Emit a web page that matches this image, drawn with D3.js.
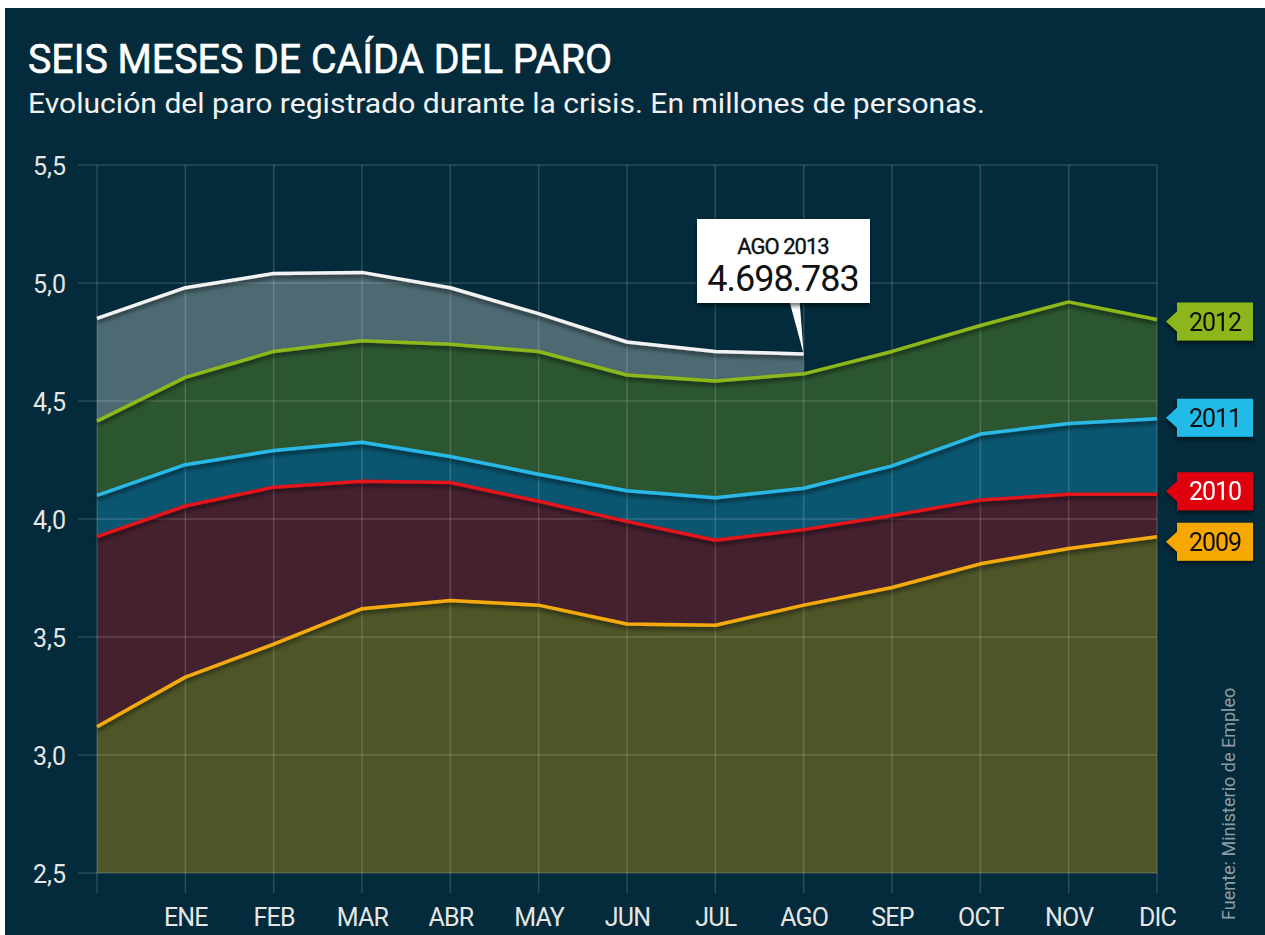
<!DOCTYPE html>
<html>
<head>
<meta charset="utf-8">
<script src="https://cdn.jsdelivr.net/npm/d3@7"></script>
<style>
  body { margin: 0; background: #fff; }
  svg { display: block; }
</style>
</head>
<body>
<svg id="chart" width="1265" height="935"></svg>
<script>
// Data (millones de personas), de DIC del año anterior a DIC
const months = ["", "ENE", "FEB", "MAR", "ABR", "MAY", "JUN", "JUL", "AGO", "SEP", "OCT", "NOV", "DIC"];
const yTicks = [2.5, 3.0, 3.5, 4.0, 4.5, 5.0, 5.5];

const paro2013 = [4.85, 4.98, 5.04, 5.045, 4.98, 4.87, 4.75, 4.71, 4.699];
const paro2012 = [4.415, 4.60, 4.71, 4.755, 4.74, 4.71, 4.61, 4.585, 4.615, 4.71, 4.82, 4.92, 4.845];
const paro2011 = [4.10, 4.23, 4.29, 4.325, 4.265, 4.19, 4.12, 4.09, 4.13, 4.225, 4.36, 4.405, 4.425];
const paro2010 = [3.925, 4.055, 4.135, 4.16, 4.155, 4.075, 3.99, 3.91, 3.955, 4.015, 4.08, 4.105, 4.105];
const paro2009 = [3.12, 3.33, 3.47, 3.62, 3.655, 3.635, 3.555, 3.55, 3.635, 3.71, 3.81, 3.875, 3.925];

const series = [
  { year: "2013", values: paro2013, line: "#f2f2f2", fill: "#4d6a73" },
  { year: "2012", values: paro2012, line: "#8db81c", fill: "#2c5630" },
  { year: "2011", values: paro2011, line: "#29b9e6", fill: "#0a5670" },
  { year: "2010", values: paro2010, line: "#e3121c", fill: "#45212f" },
  { year: "2009", values: paro2009, line: "#f5aa0c", fill: "#4e5527" }
];
const tags = [
  { year: "2012", dy: 2, bg: "#8cb61a", color: "#111" },
  { year: "2011", dy: -1, bg: "#22bbe8", color: "#111" },
  { year: "2010", dy: -3, bg: "#e0000f", color: "#fff" },
  { year: "2009", dy: 5, bg: "#f7a800", color: "#111" }
];

const svg = d3.select("#chart");
const bg = "#032b3b";
const font = "Roboto, 'Liberation Sans', sans-serif";

// Background
svg.append("rect")
  .attr("x", 5).attr("y", 8)
  .attr("width", 1260).attr("height", 927)
  .attr("fill", bg);

// Shadow filter
const defs = svg.append("defs");
const f = defs.append("filter").attr("id", "shadow")
  .attr("x", "-10%").attr("y", "-10%").attr("width", "120%").attr("height", "140%");
f.append("feDropShadow")
  .attr("dx", 0).attr("dy", 3).attr("stdDeviation", 2)
  .attr("flood-color", "#000").attr("flood-opacity", 0.55);

// Scales
const x = d3.scaleLinear().domain([0, 12]).range([97, 1157]);
const y = d3.scaleLinear().domain([2.5, 5.5]).range([873, 165]);

// Title
svg.append("text")
  .attr("x", 28).attr("y", 73)
  .attr("textLength", 584).attr("lengthAdjust", "spacingAndGlyphs")
  .style("font-family", font).style("font-size", "40px")
  .style("fill", "#fff")
  .style("stroke", "#fff").style("stroke-width", 0.6)
  .text("SEIS MESES DE CAÍDA DEL PARO");

svg.append("text")
  .attr("x", 28).attr("y", 113)
  .attr("textLength", 957).attr("lengthAdjust", "spacingAndGlyphs")
  .style("font-family", font).style("font-size", "27px")
  .style("fill", "#f2f2f2")
  .text("Evolución del paro registrado durante la crisis. En millones de personas.");

// Areas
const area = d3.area()
  .x((d, i) => x(i))
  .y0(y(2.5))
  .y1((d) => y(d));

svg.append("g")
  .selectAll("path")
  .data(series)
  .join("path")
  .attr("d", (d) => area(d.values))
  .attr("fill", (d) => d.fill);

// Grid
const grid = svg.append("g").attr("class", "grid");
grid.selectAll(".hline")
  .data(yTicks)
  .join("line")
  .attr("x1", 78).attr("x2", 1157)
  .attr("y1", (d) => y(d)).attr("y2", (d) => y(d))
  .attr("stroke", "#ffffff").attr("stroke-opacity", 0.16).attr("stroke-width", 1.5);
grid.selectAll(".vline")
  .data(d3.range(13))
  .join("line")
  .attr("x1", (d) => x(d)).attr("x2", (d) => x(d))
  .attr("y1", y(5.5)).attr("y2", 893)
  .attr("stroke", "#ffffff").attr("stroke-opacity", 0.16).attr("stroke-width", 1.5);

// Lines
const line = d3.line()
  .x((d, i) => x(i))
  .y((d) => y(d));

svg.append("g")
  .selectAll("path")
  .data(series.slice().reverse())
  .join("path")
  .attr("d", (d) => line(d.values))
  .attr("fill", "none")
  .attr("stroke", (d) => d.line)
  .attr("stroke-width", 3.5)
  .attr("stroke-linejoin", "round")
  .attr("filter", "url(#shadow)");

// Y axis labels
const yAxis = d3.axisLeft(y)
  .tickValues(yTicks)
  .tickSize(0)
  .tickPadding(0)
  .tickFormat((d) => d3.format(".1f")(d).replace(".", ","));
const gy = svg.append("g")
  .attr("transform", "translate(66,0)")
  .call(yAxis);
gy.select(".domain").remove();
gy.selectAll("text")
  .style("font-family", font).style("font-size", "25px")
  .style("fill", "#e6e6e6")
  .attr("dy", "0.36em");

// X axis labels
const xAxis = d3.axisBottom(x)
  .tickValues(d3.range(1, 13))
  .tickSize(0)
  .tickPadding(0)
  .tickFormat((d) => months[d]);
const gx = svg.append("g")
  .attr("transform", "translate(0,926)")
  .call(xAxis);
gx.select(".domain").remove();
gx.selectAll("text")
  .attr("dy", 0)
  .style("font-family", font).style("font-size", "25px")
  .style("letter-spacing", "-0.8px")
  .style("fill", "#e6e6e6");

// Year tags
const byYear = Object.fromEntries(series.map((s) => [s.year, s]));
const tagG = svg.append("g")
  .selectAll("g")
  .data(tags)
  .join("g")
  .attr("transform", (d) => {
    const v = byYear[d.year].values;
    return `translate(1166,${y(v[v.length - 1]) + d.dy})`;
  })
  .attr("filter", "url(#shadow)");
tagG.append("path")
  .attr("d", "M0,0 L11,-10 L11,-19 L87,-19 L87,19 L11,19 L11,10 Z")
  .attr("fill", (d) => d.bg);
tagG.append("text")
  .attr("x", 49).attr("y", 9)
  .attr("text-anchor", "middle")
  .style("font-family", font).style("font-size", "25px")
  .style("letter-spacing", "-1px")
  .style("fill", (d) => d.color)
  .text((d) => d.year);

// Callout AGO 2013
const last = paro2013.length - 1;
const px = x(last), py = y(paro2013[last]);
const callout = svg.append("g");
callout.append("path")
  .attr("d", `M${px - 14},302 L${px - 4},302 L${px},${py} Z`)
  .attr("fill", "#fff");
callout.append("rect")
  .attr("x", 697).attr("y", 219)
  .attr("width", 173).attr("height", 84)
  .attr("fill", "#fff")
  .attr("filter", "url(#shadow)");
callout.append("text")
  .attr("x", 783).attr("y", 254)
  .attr("text-anchor", "middle")
  .style("font-family", font).style("font-size", "22px")
  .style("letter-spacing", "-1px")
  .style("fill", "#111")
  .style("stroke", "#111").style("stroke-width", 0.4)
  .text("AGO 2013");
callout.append("text")
  .attr("x", 783).attr("y", 291)
  .attr("text-anchor", "middle")
  .style("font-family", font).style("font-size", "36px")
  .style("letter-spacing", "-1px")
  .style("fill", "#111")
  .text("4.698.783");

// Source
svg.append("text")
  .attr("transform", "translate(1235,920) rotate(-90)")
  .style("font-family", font).style("font-size", "18px")
  .style("fill", "#8c9ca3")
  .text("Fuente: Ministerio de Empleo");
</script>
</body>
</html>
